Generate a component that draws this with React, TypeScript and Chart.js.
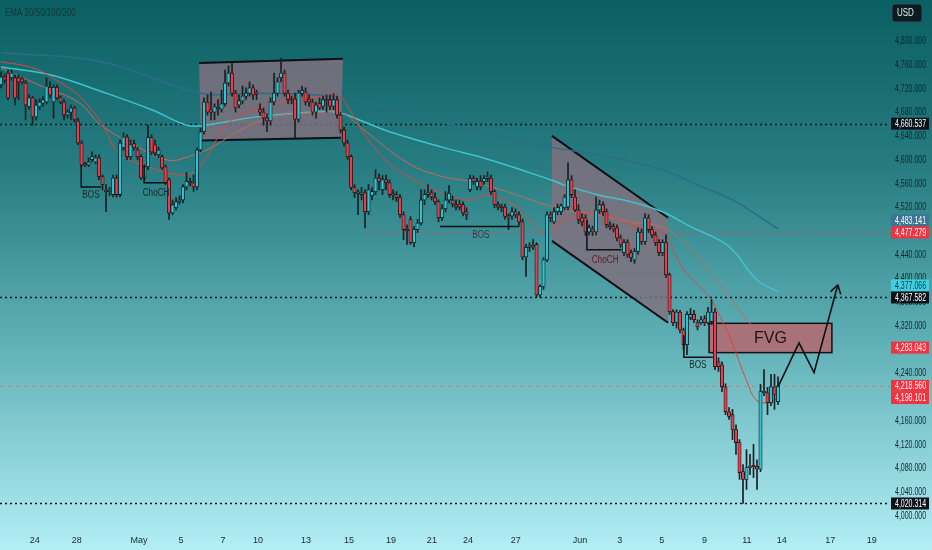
import { useEffect, useRef } from "react";
import { Chart, registerables } from "chart.js";

Chart.register(...registerables);

// ---- candles (4H) ----
const opens = [
  4726, 4739, 4746, 4738, 4738, 4738, 4736, 4729, 4689, 4704,
  4672, 4689, 4695, 4697, 4722, 4697, 4722, 4704, 4697, 4675,
  4680, 4687, 4665, 4628, 4593, 4591, 4600, 4596, 4603, 4571,
  4548, 4546, 4541, 4569, 4541, 4620, 4638, 4605, 4627, 4616,
  4605, 4569, 4588, 4637, 4625, 4608, 4605, 4588, 4566, 4510,
  4519, 4529, 4532, 4554, 4563, 4561, 4554, 4616, 4647, 4697,
  4684, 4680, 4687, 4685, 4694, 4729, 4746, 4712, 4692, 4699,
  4707, 4712, 4721, 4711, 4685, 4680, 4670, 4665, 4697, 4712,
  4738, 4746, 4712, 4701, 4702, 4668, 4712, 4714, 4702, 4697,
  4680, 4695, 4690, 4701, 4701, 4690, 4701, 4675, 4650, 4628,
  4605, 4553, 4544, 4541, 4544, 4512, 4539, 4546, 4569, 4549,
  4566, 4561, 4541, 4541, 4536, 4507, 4482, 4499, 4460, 4482,
  4493, 4532, 4541, 4544, 4536, 4529, 4502, 4517, 4532, 4532,
  4524, 4525, 4524, 4512, 4549, 4568, 4554, 4564, 4563, 4568,
  4569, 4546, 4524, 4520, 4520, 4504, 4505, 4512, 4507, 4495,
  4436, 4453, 4453, 4457, 4372, 4386, 4431, 4507, 4495, 4512,
  4512, 4519, 4520, 4566, 4537, 4515, 4502, 4502, 4478, 4483,
  4478, 4515, 4524, 4512, 4490, 4487, 4485, 4468, 4443, 4460,
  4443, 4431, 4445, 4478, 4462, 4502, 4482, 4473, 4460, 4443,
  4460, 4406, 4344, 4325, 4343, 4313, 4288, 4334, 4339, 4325,
  4325, 4332, 4325, 4327, 4343, 4259, 4254, 4217, 4175, 4170,
  4145, 4123, 4074, 4061, 4081, 4083, 4083, 4078, 4207, 4207,
  4190, 4217, 4192,
];
const highs = [
  4748, 4743, 4751, 4751, 4743, 4743, 4739, 4734, 4709, 4707,
  4701, 4702, 4706, 4738, 4731, 4726, 4726, 4707, 4701, 4684,
  4692, 4690, 4670, 4632, 4596, 4603, 4613, 4608, 4608, 4574,
  4558, 4553, 4574, 4574, 4633, 4645, 4642, 4633, 4633, 4621,
  4608, 4591, 4658, 4642, 4633, 4621, 4608, 4591, 4569, 4532,
  4536, 4539, 4558, 4578, 4569, 4574, 4620, 4653, 4704, 4709,
  4714, 4694, 4701, 4717, 4751, 4758, 4763, 4717, 4709, 4724,
  4721, 4731, 4726, 4717, 4694, 4687, 4677, 4704, 4746, 4738,
  4771, 4751, 4717, 4707, 4712, 4717, 4724, 4721, 4709, 4702,
  4697, 4704, 4707, 4709, 4709, 4711, 4707, 4680, 4655, 4633,
  4608, 4558, 4549, 4553, 4549, 4558, 4553, 4583, 4576, 4573,
  4574, 4566, 4549, 4546, 4541, 4512, 4490, 4504, 4487, 4499,
  4549, 4549, 4558, 4549, 4544, 4532, 4524, 4546, 4556, 4539,
  4532, 4532, 4529, 4519, 4574, 4573, 4569, 4573, 4573, 4579,
  4574, 4549, 4529, 4525, 4525, 4509, 4519, 4517, 4512, 4500,
  4457, 4460, 4465, 4460, 4389, 4435, 4512, 4512, 4519, 4525,
  4525, 4541, 4595, 4573, 4549, 4524, 4509, 4507, 4490, 4488,
  4537, 4532, 4529, 4517, 4495, 4492, 4490, 4473, 4465, 4465,
  4448, 4450, 4485, 4483, 4509, 4507, 4487, 4478, 4465, 4465,
  4473, 4409, 4347, 4347, 4346, 4316, 4344, 4349, 4346, 4330,
  4336, 4337, 4351, 4364, 4349, 4266, 4259, 4222, 4182, 4179,
  4153, 4128, 4086, 4111, 4103, 4120, 4094, 4221, 4246, 4216,
  4238, 4238, 4234,
];
const lows = [
  4721, 4729, 4701, 4734, 4692, 4701, 4728, 4667, 4685, 4658,
  4667, 4684, 4690, 4694, 4704, 4670, 4701, 4694, 4667, 4670,
  4667, 4663, 4625, 4588, 4588, 4588, 4596, 4593, 4566, 4549,
  4512, 4539, 4537, 4537, 4537, 4616, 4600, 4600, 4616, 4600,
  4566, 4566, 4583, 4608, 4606, 4603, 4583, 4558, 4499, 4507,
  4515, 4525, 4527, 4549, 4556, 4546, 4549, 4613, 4643, 4675,
  4667, 4667, 4675, 4680, 4690, 4724, 4707, 4680, 4687, 4694,
  4702, 4707, 4701, 4701, 4674, 4658, 4647, 4658, 4692, 4707,
  4731, 4707, 4694, 4694, 4637, 4663, 4707, 4692, 4690, 4675,
  4670, 4684, 4684, 4680, 4684, 4684, 4670, 4645, 4623, 4600,
  4549, 4536, 4507, 4532, 4485, 4507, 4532, 4541, 4549, 4541,
  4549, 4536, 4532, 4529, 4502, 4465, 4457, 4457, 4453, 4477,
  4490, 4524, 4536, 4532, 4524, 4495, 4497, 4512, 4527, 4520,
  4515, 4515, 4505, 4499, 4546, 4558, 4549, 4549, 4558, 4563,
  4541, 4519, 4515, 4512, 4499, 4482, 4499, 4502, 4488, 4431,
  4403, 4445, 4448, 4369, 4367.6, 4381, 4428, 4495, 4492, 4507,
  4507, 4515, 4515, 4536, 4512, 4492, 4488, 4472, 4473, 4472,
  4473, 4509, 4505, 4485, 4482, 4478, 4463, 4452, 4438, 4435,
  4428, 4425, 4440, 4457, 4457, 4477, 4468, 4455, 4438, 4438,
  4401, 4339, 4320, 4316, 4308, 4280, 4271, 4330, 4325, 4313,
  4322, 4320, 4322, 4322, 4246, 4243, 4209, 4170, 4162, 4128,
  4103, 4061, 4020.3, 4044, 4069, 4064, 4044, 4074, 4202, 4170,
  4185, 4179, 4187,
];
const closes = [
  4739, 4734, 4704, 4746, 4704, 4731, 4731, 4692, 4704, 4672,
  4692, 4697, 4701, 4724, 4709, 4722, 4704, 4697, 4675, 4680,
  4687, 4667, 4628, 4591, 4591, 4596, 4605, 4603, 4571, 4558,
  4546, 4548, 4569, 4541, 4628, 4638, 4605, 4625, 4620, 4605,
  4569, 4588, 4637, 4613, 4611, 4616, 4586, 4561, 4510, 4524,
  4529, 4532, 4554, 4563, 4561, 4554, 4616, 4647, 4697, 4680,
  4680, 4689, 4686, 4694, 4729, 4746, 4712, 4687, 4699, 4707,
  4712, 4721, 4709, 4710, 4680, 4670, 4665, 4697, 4712, 4731,
  4746, 4712, 4701, 4700, 4668, 4712, 4717, 4697, 4697, 4680,
  4692, 4687, 4701, 4699, 4690, 4701, 4675, 4650, 4628, 4605,
  4553, 4544, 4543, 4544, 4512, 4549, 4546, 4569, 4563, 4566,
  4561, 4541, 4540, 4536, 4507, 4482, 4480, 4460, 4482, 4493,
  4532, 4541, 4544, 4537, 4529, 4502, 4517, 4532, 4543, 4525,
  4520, 4520, 4510, 4507, 4568, 4563, 4563, 4554, 4568, 4571,
  4546, 4524, 4520, 4519, 4504, 4503, 4512, 4507, 4495, 4436,
  4452, 4452, 4455, 4372, 4386, 4431, 4507, 4502, 4512, 4519,
  4522, 4537, 4566, 4541, 4515, 4499, 4495, 4478, 4485, 4478,
  4515, 4524, 4512, 4490, 4487, 4483, 4468, 4457, 4460, 4440,
  4435, 4445, 4478, 4462, 4502, 4482, 4473, 4460, 4443, 4460,
  4406, 4344, 4325, 4343, 4313, 4288, 4339, 4339, 4330, 4318,
  4330, 4325, 4343, 4343, 4251, 4251, 4217, 4175, 4167, 4145,
  4123, 4072, 4061, 4081, 4083, 4082, 4078, 4209, 4209, 4190,
  4217, 4204, 4218.56,
];

// ---- EMA lines [candle index, price] ----
const ema20 = [
  [0, 4765], [9.4, 4754], [17.1, 4729], [22, 4709], [28.6, 4663], [33.4, 4613], [42.9, 4586],
  [51.4, 4574], [55.1, 4579], [57.1, 4591], [60, 4616], [63.7, 4655], [68.6, 4675], [73.4, 4687],
  [80, 4697], [85.7, 4701], [96.3, 4706], [100, 4680], [104.9, 4633], [111.4, 4591], [117.1, 4569],
  [123.7, 4549], [133.4, 4532], [139.1, 4540], [146.6, 4524], [150.6, 4502], [154.3, 4478],
  [157.1, 4481], [160.9, 4498], [170.6, 4510], [180, 4490], [189.4, 4476], [191.4, 4456],
  [195.1, 4414], [199.1, 4389], [202.9, 4364], [205.7, 4333], [209.1, 4288], [212.9, 4229],
  [215.7, 4195], [218.6, 4190], [222, 4198.1],
];
const ema50 = [
  [0, 4754], [12.3, 4722], [22, 4697], [28.6, 4658], [38, 4625], [47.7, 4599], [55.1, 4608],
  [60, 4620], [68.6, 4650], [78, 4672], [92.3, 4680], [97.1, 4680], [103.7, 4650], [116.3, 4594],
  [125.7, 4572], [135.1, 4562], [142.9, 4549], [151.4, 4532], [160.9, 4515], [170.6, 4507],
  [180, 4495], [189.4, 4485], [197.1, 4448], [202.9, 4406], [208.6, 4364], [214.3, 4322],
  [222, 4283.04],
];
const ema100 = [
  [0, 4756], [14, 4743], [29, 4714], [43, 4684], [53, 4658], [57, 4657], [73, 4672], [88, 4680],
  [96, 4680], [104, 4663], [111, 4647], [126, 4621], [140, 4599], [157, 4566], [161, 4557],
  [171, 4540], [180, 4529], [189, 4512], [197, 4487], [205, 4465], [209, 4448], [216, 4397],
  [222, 4377.07],
];
const ema200 = [
  [0, 4780], [28.6, 4765], [57, 4712], [73, 4712], [96, 4706], [111, 4687], [135, 4650],
  [157, 4621], [171, 4608], [189, 4583], [199, 4557], [209, 4532], [222, 4483.14],
];

// ---- axes ----
const priceTicks = [4000, 4040, 4080, 4120, 4160, 4200, 4240, 4280, 4320, 4360, 4400, 4440, 4480, 4520, 4560, 4600, 4640, 4680, 4720, 4760, 4800];
const dateTickIndex = [9.6, 21.6, 39.4, 51.4, 63.4, 73.4, 87.1, 99.4, 111.4, 123.1, 133.4, 147.1, 165.4, 176.8, 188.8, 201, 213.1, 223.1, 236.9, 248.8];
const dateTickLabels = ["24", "28", "May", "5", "7", "10", "13", "15", "19", "21", "24", "27", "Jun", "3", "5", "9", "11", "14", "17", "19"];

// ---- drawings ----
const mayBox = [[56.6, 4763], [97.7, 4770], [97.1, 4637], [57.1, 4632]];
const juneChannel = [[157.4, 4640], [190.6, 4502], [190.6, 4325], [157.4, 4463]];
const fvgZone = [202.3, 4324, 237.4, 4274.6];
const projection = [[222, 4217], [228, 4291], [232.3, 4241], [239.1, 4389]];
const structureLines = [
  [[22.9, 4591], [22.9, 4554], [28.6, 4554]],
  [[40.9, 4591], [40.9, 4561], [47.4, 4561]],
  [[125.4, 4487], [148, 4487]],
  [[167.4, 4498], [167.4, 4448], [177.3, 4448]],
  [[195.1, 4304], [195.1, 4267], [203.4, 4267]],
];
const structureTexts = ["BOS", "ChoCH", "BOS", "ChoCH", "BOS"];
const structureTextAt = [[25.7, 4540], [44.3, 4544], [137.1, 4473], [172.6, 4431], [199.1, 4254]];
const levelPrices = [4660.537, 4477.279, 4367.582, 4218.56, 4020.314];
const levelStart = [-0.3, 104, -0.3, -0.3, -0.3];
const labelPrices = [4660.537, 4483.141, 4477.279, 4377.066, 4367.582, 4283.043, 4218.56, 4198.101, 4020.314];

const BULL = "#2cc4d5";
const BEAR = "#f03a47";
const FONT = "'Liberation Sans', Arial, sans-serif";

const levelStyle = [
  { color: "#0c1419", width: 1.6, dash: [2, 3] },
  { color: "#e8464f", width: 1.2, dash: [2, 4] },
  { color: "#0c1419", width: 1.6, dash: [2, 3] },
  { color: "rgba(214,112,86,0.85)", width: 1, dash: [3, 5] },
  { color: "#0c1419", width: 1.6, dash: [2, 3] },
];
const labelStyle = [
  { bg: "#0a1118", fg: "#ffffff" },
  { bg: "#3b7591", fg: "#ffffff" },
  { bg: "#f2323f", fg: "#ffffff" },
  { bg: "#3fd0df", fg: "#0f3550" },
  { bg: "#0a1118", fg: "#ffffff" },
  { bg: "#f2323f", fg: "#ffffff" },
  { bg: "#f2323f", fg: "#ffffff" },
  { bg: "#f2323f", fg: "#ffffff" },
  { bg: "#0a1118", fg: "#ffffff" },
];
const textColors = ["#1a2628", "#1a2628", "#2e3d40", "#5a1c24", "#1a2628"];

const fmt = (v: number) =>
  v.toLocaleString("en-US", { minimumFractionDigits: 3, maximumFractionDigits: 3 });

// narrow text: the reference uses a condensed face
const narrowText = (ctx: any, text: string, x: number, y: number, sx = 0.7) => {
  ctx.save();
  ctx.translate(x, y);
  ctx.scale(sx, 1);
  ctx.fillText(text, 0, 0);
  ctx.restore();
};

const overlay = {
  id: "overlay",
  beforeDraw(chart: any) {
    const { ctx, width, height } = chart;
    const g = ctx.createLinearGradient(0, 0, 0, height);
    g.addColorStop(0, "#0a5f63");
    g.addColorStop(0.3, "#267c80");
    g.addColorStop(0.62, "#5fb0b6");
    g.addColorStop(1, "#b3eef5");
    ctx.save();
    ctx.fillStyle = g;
    ctx.fillRect(0, 0, width, height);
    ctx.restore();
  },
  beforeDatasetsDraw(chart: any) {
    const { ctx, chartArea } = chart;
    const X = (v: number) => chart.scales.x.getPixelForValue(v);
    const Y = (v: number) => chart.scales.y.getPixelForValue(v);
    ctx.save();
    ctx.beginPath();
    ctx.rect(chartArea.left, chartArea.top, chartArea.right - chartArea.left, chartArea.bottom - chartArea.top);
    ctx.clip();

    levelPrices.forEach((p, i) => {
      const s = levelStyle[i];
      ctx.beginPath();
      ctx.setLineDash(s.dash);
      ctx.strokeStyle = s.color;
      ctx.lineWidth = s.width;
      ctx.moveTo(X(levelStart[i]), Math.round(Y(p)) + 0.5);
      ctx.lineTo(chartArea.right, Math.round(Y(p)) + 0.5);
      ctx.stroke();
    });
    ctx.setLineDash([]);

    [mayBox, juneChannel].forEach((poly) => {
      ctx.beginPath();
      poly.forEach(([a, b], k) => (k ? ctx.lineTo(X(a), Y(b)) : ctx.moveTo(X(a), Y(b))));
      ctx.closePath();
      ctx.fillStyle = "rgba(130,112,126,0.82)";
      ctx.fill();
      ctx.strokeStyle = "#0b0f12";
      ctx.lineWidth = 2;
      ctx.beginPath();
      ctx.moveTo(X(poly[0][0]), Y(poly[0][1]));
      ctx.lineTo(X(poly[1][0]), Y(poly[1][1]));
      ctx.moveTo(X(poly[3][0]), Y(poly[3][1]));
      ctx.lineTo(X(poly[2][0]), Y(poly[2][1]));
      ctx.stroke();
    });

    const [fx0, ft, fx1, fb] = fvgZone;
    ctx.fillStyle = "rgba(176,108,116,0.92)";
    ctx.fillRect(X(fx0), Y(ft), X(fx1) - X(fx0), Y(fb) - Y(ft));
    ctx.strokeStyle = "#101214";
    ctx.lineWidth = 1.5;
    ctx.strokeRect(X(fx0), Y(ft), X(fx1) - X(fx0), Y(fb) - Y(ft));
    ctx.restore();
  },
  afterDatasetsDraw(chart: any) {
    const { ctx } = chart;
    const X = (v: number) => chart.scales.x.getPixelForValue(v);
    const Y = (v: number) => chart.scales.y.getPixelForValue(v);
    ctx.save();
    ctx.strokeStyle = "#0d1114";
    ctx.lineWidth = 1.5;
    structureLines.forEach((pts) => {
      ctx.beginPath();
      pts.forEach(([a, b], k) => (k ? ctx.lineTo(X(a), Y(b)) : ctx.moveTo(X(a), Y(b))));
      ctx.stroke();
    });
    ctx.font = `10px ${FONT}`;
    ctx.textAlign = "center";
    ctx.textBaseline = "middle";
    structureTexts.forEach((t, i) => {
      ctx.fillStyle = textColors[i];
      narrowText(ctx, t, X(structureTextAt[i][0]), Y(structureTextAt[i][1]), 0.82);
    });

    const [fx0, ft, fx1, fb] = fvgZone;
    ctx.fillStyle = "#1a1416";
    ctx.font = `16px ${FONT}`;
    ctx.fillText("FVG", (X(fx0) + X(fx1)) / 2, (Y(ft) + Y(fb)) / 2 + 1);

    ctx.strokeStyle = "#0d1114";
    ctx.lineWidth = 1.6;
    ctx.beginPath();
    projection.forEach(([a, b], k) => (k ? ctx.lineTo(X(a), Y(b)) : ctx.moveTo(X(a), Y(b))));
    ctx.stroke();
    const n = projection.length;
    const tx = X(projection[n - 1][0]);
    const ty = Y(projection[n - 1][1]);
    const px = X(projection[n - 2][0]);
    const py = Y(projection[n - 2][1]);
    const ang = Math.atan2(ty - py, tx - px);
    ctx.beginPath();
    [ang + Math.PI - 0.55, ang + Math.PI + 0.55].forEach((a) => {
      ctx.moveTo(tx, ty);
      ctx.lineTo(tx + 10 * Math.cos(a), ty + 10 * Math.sin(a));
    });
    ctx.stroke();
    ctx.restore();
  },
  afterDraw(chart: any) {
    const { ctx, chartArea } = chart;
    const ys = chart.scales.y;
    const Y = (v: number) => ys.getPixelForValue(v);
    ctx.save();
    ctx.textBaseline = "middle";
    ctx.textAlign = "left";

    // price axis tick labels
    ctx.font = `10px ${FONT}`;
    ctx.fillStyle = "#142428";
    ys.ticks.forEach((t: any) => narrowText(ctx, fmt(t.value), chartArea.right + 5, Y(t.value) + 0.5));

    // price labels on axis, stacked upward when overlapping
    const h = 12;
    const order = labelPrices.map((_p, i) => i).sort((a, b) => labelPrices[a] - labelPrices[b]);
    let prev = Infinity;
    const pos: number[] = [];
    order.forEach((i) => {
      let y = Y(labelPrices[i]);
      if (y > prev - h) y = prev - h;
      pos[i] = y;
      prev = y;
    });
    labelPrices.forEach((p, i) => {
      const s = labelStyle[i];
      const x0 = chartArea.right + 1;
      ctx.fillStyle = s.bg;
      ctx.fillRect(x0, pos[i] - h / 2, 38, h);
      ctx.fillStyle = s.fg;
      narrowText(ctx, fmt(p), x0 + 4, pos[i] + 0.5);
    });

    // USD badge
    const bx = chartArea.right + 2;
    ctx.fillStyle = "#0c1a22";
    ctx.strokeStyle = "#35505a";
    ctx.lineWidth = 1;
    ctx.beginPath();
    ctx.roundRect(bx, 4, 30, 18, 3);
    ctx.fill();
    ctx.stroke();
    ctx.fillStyle = "#e6eef0";
    narrowText(ctx, "USD", bx + 5, 13.5, 0.8);

    // indicator caption
    ctx.fillStyle = "#123438";
    ctx.font = `10px ${FONT}`;
    narrowText(ctx, "EMA 20/50/100/200", 5, 13, 0.8);
    ctx.restore();
  },
};

export default function App() {
  const ref = useRef<HTMLCanvasElement>(null);
  useEffect(() => {
    const canvas = ref.current;
    if (!canvas) return;
    const idx = closes.map((_, i) => i);
    const bodyColors = closes.map((c, i) => (c >= opens[i] ? BULL : BEAR));
    const line = (label: string, pts: number[][], color: string, w: number, order: number) => ({
      type: "line",
      label,
      data: pts.map(([x, y]) => ({ x, y })),
      borderColor: color,
      borderWidth: w,
      pointRadius: 0,
      tension: 0.4,
      order,
    });
    const chart = new Chart(canvas, {
      type: "bar",
      data: {
        datasets: [
          line("EMA 200", ema200, "#2f6b88", 1.5, 9),
          line("EMA 100", ema100, "#3fc4cf", 1.5, 8),
          line("EMA 50", ema50, "#c8695d", 1, 7),
          line("EMA 20", ema20, "#e2443f", 1, 6),
          {
            type: "bar",
            label: "wick",
            data: idx.map((i) => ({ x: i, y: [lows[i], highs[i]] })),
            backgroundColor: "#182020",
            barThickness: 1,
            grouped: false,
            order: 2,
          },
          {
            type: "bar",
            label: "body",
            data: idx.map((i) => ({ x: i, y: [opens[i], closes[i]] })),
            backgroundColor: bodyColors,
            borderColor: "#111717",
            borderWidth: 0.8,
            borderSkipped: false,
            barThickness: 3.3,
            minBarLength: 1.5,
            grouped: false,
            order: 1,
          },
        ] as any,
      },
      options: {
        responsive: false,
        animation: false,
        events: [],
        layout: { padding: 0 },
        plugins: { legend: { display: false }, tooltip: { enabled: false } },
        scales: {
          x: {
            type: "linear",
            min: -0.3,
            max: 254,
            offset: false,
            grid: { display: false, drawTicks: false },
            border: { display: false },
            afterBuildTicks: (s: any) => {
              s.ticks = dateTickIndex.map((v) => ({ value: v }));
            },
            afterFit: (s: any) => {
              s.height = 22;
            },
            ticks: {
              autoSkip: false,
              maxRotation: 0,
              padding: 7,
              color: "#1a282c",
              font: { size: 9, family: FONT },
              callback: (_v: any, i: number) => dateTickLabels[i],
            },
          },
          y: {
            type: "linear",
            position: "right",
            min: 3979,
            max: 4869,
            grid: { display: false, drawTicks: false },
            border: { display: false },
            afterBuildTicks: (s: any) => {
              s.ticks = priceTicks.map((v) => ({ value: v }));
            },
            afterFit: (s: any) => {
              s.width = 42;
            },
            ticks: { display: false },
          },
        },
      } as any,
      plugins: [overlay],
    });
    return () => chart.destroy();
  }, []);
  return (
    <div style={{ position: "fixed", left: 0, top: 0, width: 932, height: 550 }}>
      <canvas ref={ref} width={932} height={550} style={{ display: "block", width: 932, height: 550 }} />
    </div>
  );
}
